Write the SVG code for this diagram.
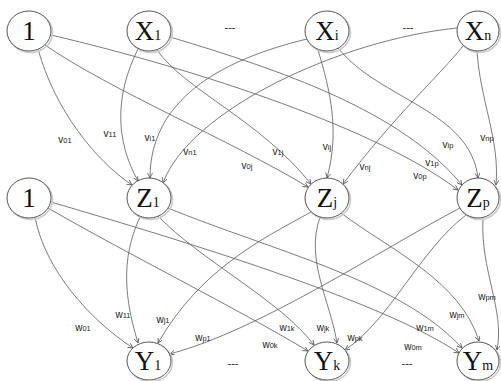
<svg xmlns="http://www.w3.org/2000/svg" width="501" height="381" viewBox="0 0 501 381">
  <style>
    .edge { fill: none; stroke: #5a5a5a; stroke-width: 0.8; marker-end: url(#arr); }
    .node ellipse.body { fill: #fff; stroke: #444; stroke-width: 0.9; }
    .node ellipse.shade { fill: none; stroke: #cccccc; stroke-width: 1.6; }
    .ntxt { font-family: "Liberation Serif", "Times New Roman", serif; font-size: 27px; fill: #111; text-anchor: middle; }
    .sub { font-size: 14px; }
    .lbl { font-family: "Liberation Sans", Arial, sans-serif; font-size: 10px; fill: #222; text-anchor: middle; }
    .ls { font-size: 7.5px; }
    .dots { font-family: "Liberation Sans", Arial, sans-serif; font-size: 11px; fill: #222; text-anchor: middle; }
  </style>
  <defs>
    <marker id="arr" markerWidth="7" markerHeight="6" refX="5" refY="2.5" orient="auto" markerUnits="userSpaceOnUse">
      <path d="M0,0 L5,2.5 L0,5" fill="none" stroke="#555" stroke-width="0.8"/>
    </marker>
  </defs>
  <rect width="501" height="381" fill="#fff"/>

  <g id="connectors">
    <!-- input layer to hidden layer -->
    <path class="edge" d="M38,49 C55,110 95,160 132,185"/>
    <path class="edge" d="M45,45 C110,90 230,140 308,187"/>
    <path class="edge" d="M51,35 C200,70 380,130 458,190"/>
    <path class="edge" d="M138,49 C115,95 115,140 138,181"/>
    <path class="edge" d="M157,50 C185,90 260,120 311,184"/>
    <path class="edge" d="M170,37 C280,70 400,110 462,185"/>
    <path class="edge" d="M307,39 C220,60 150,100 150,178"/>
    <path class="edge" d="M318,50 C330,90 340,130 327,178"/>
    <path class="edge" d="M338,48 C380,100 470,110 478,178"/>
    <path class="edge" d="M457,28 C340,40 190,110 163,183"/>
    <path class="edge" d="M463,46 C440,75 395,115 343,184"/>
    <path class="edge" d="M477,51 C480,100 500,140 496,185"/>
    <!-- hidden layer to output layer -->
    <path class="edge" d="M35,217 C45,270 90,320 133,348"/>
    <path class="edge" d="M48,208 C120,250 240,310 308,351"/>
    <path class="edge" d="M51,202 C180,240 380,300 459,353"/>
    <path class="edge" d="M140,217 C120,260 125,300 138,343"/>
    <path class="edge" d="M158,216 C200,260 280,300 314,345"/>
    <path class="edge" d="M168,208 C270,250 400,280 462,348"/>
    <path class="edge" d="M311,212 C260,240 200,270 158,343"/>
    <path class="edge" d="M320,217 C305,260 330,300 337,343"/>
    <path class="edge" d="M341,213 C390,250 460,280 479,341"/>
    <path class="edge" d="M460,208 C380,250 260,330 170,354"/>
    <path class="edge" d="M466,215 C420,250 390,320 345,350"/>
    <path class="edge" d="M483,218 C480,270 505,310 497,350"/>

    <!-- weight labels -->
    <text class="lbl" x="65" y="143">v<tspan class="ls">01</tspan></text>
    <text class="lbl" x="110" y="137">v<tspan class="ls">11</tspan></text>
    <text class="lbl" x="150" y="141">v<tspan class="ls">i1</tspan></text>
    <text class="lbl" x="190" y="155">v<tspan class="ls">n1</tspan></text>
    <text class="lbl" x="247" y="169">v<tspan class="ls">0j</tspan></text>
    <text class="lbl" x="278" y="155">v<tspan class="ls">1j</tspan></text>
    <text class="lbl" x="327" y="150">v<tspan class="ls">ij</tspan></text>
    <text class="lbl" x="365" y="170">v<tspan class="ls">nj</tspan></text>
    <text class="lbl" x="448" y="148">v<tspan class="ls">ip</tspan></text>
    <text class="lbl" x="487" y="141">v<tspan class="ls">np</tspan></text>
    <text class="lbl" x="432" y="166">v<tspan class="ls">1p</tspan></text>
    <text class="lbl" x="420" y="179">v<tspan class="ls">0p</tspan></text>

    <text class="lbl" x="83" y="331">w<tspan class="ls">01</tspan></text>
    <text class="lbl" x="123" y="318">w<tspan class="ls">11</tspan></text>
    <text class="lbl" x="163" y="323">w<tspan class="ls">j1</tspan></text>
    <text class="lbl" x="203" y="341">w<tspan class="ls">p1</tspan></text>
    <text class="lbl" x="270" y="348">w<tspan class="ls">0k</tspan></text>
    <text class="lbl" x="287" y="331">w<tspan class="ls">1k</tspan></text>
    <text class="lbl" x="323" y="331">w<tspan class="ls">jk</tspan></text>
    <text class="lbl" x="355" y="341">w<tspan class="ls">pk</tspan></text>
    <text class="lbl" x="413" y="350">w<tspan class="ls">0m</tspan></text>
    <text class="lbl" x="425" y="331">w<tspan class="ls">1m</tspan></text>
    <text class="lbl" x="457" y="318">w<tspan class="ls">jm</tspan></text>
    <text class="lbl" x="487" y="300">w<tspan class="ls">pm</tspan></text>
  </g>

  <!-- ellipsis marks between nodes -->
  <text class="dots" x="230" y="31">---</text>
  <text class="dots" x="408" y="31">---</text>
  <text class="dots" x="233" y="367">---</text>
  <text class="dots" x="407" y="367">---</text>

  <!-- input layer -->
  <g id="bias-in" class="node"><ellipse class="shade" cx="30.5" cy="32.5" rx="22" ry="20"/><ellipse class="body" cx="29" cy="31" rx="22" ry="20"/><text class="ntxt" x="29" y="40">1</text></g>
  <g id="x1" class="node"><ellipse class="shade" cx="150.5" cy="32.5" rx="22" ry="20"/><ellipse class="body" cx="149" cy="31" rx="22" ry="20"/><text class="ntxt" x="148" y="40">X<tspan class="sub">1</tspan></text></g>
  <g id="xi" class="node"><ellipse class="shade" cx="328.5" cy="32.5" rx="22" ry="20"/><ellipse class="body" cx="327" cy="31" rx="22" ry="20"/><text class="ntxt" x="327" y="40">X<tspan class="sub">i</tspan></text></g>
  <g id="xn" class="node"><ellipse class="shade" cx="479.5" cy="32.5" rx="21" ry="20"/><ellipse class="body" cx="478" cy="31" rx="21" ry="20"/><text class="ntxt" x="478" y="40">X<tspan class="sub">n</tspan></text></g>

  <!-- hidden layer -->
  <g id="bias-hidden" class="node"><ellipse class="shade" cx="30.5" cy="199.5" rx="22" ry="20"/><ellipse class="body" cx="29" cy="198" rx="22" ry="20"/><text class="ntxt" x="29" y="207">1</text></g>
  <g id="z1" class="node"><ellipse class="shade" cx="150.5" cy="199.5" rx="22" ry="20"/><ellipse class="body" cx="149" cy="198" rx="22" ry="20"/><text class="ntxt" x="148" y="207">Z<tspan class="sub">1</tspan></text></g>
  <g id="zj" class="node"><ellipse class="shade" cx="328.5" cy="199.5" rx="22" ry="20"/><ellipse class="body" cx="327" cy="198" rx="22" ry="20"/><text class="ntxt" x="327" y="207">Z<tspan class="sub">j</tspan></text></g>
  <g id="zp" class="node"><ellipse class="shade" cx="479.5" cy="199.5" rx="21" ry="20"/><ellipse class="body" cx="478" cy="198" rx="21" ry="20"/><text class="ntxt" x="478" y="207">Z<tspan class="sub">p</tspan></text></g>

  <!-- output layer -->
  <g id="y1" class="node"><ellipse class="shade" cx="150.5" cy="362.5" rx="22" ry="19"/><ellipse class="body" cx="149" cy="361" rx="22" ry="19"/><text class="ntxt" x="148" y="370">Y<tspan class="sub">1</tspan></text></g>
  <g id="yk" class="node"><ellipse class="shade" cx="328.5" cy="362.5" rx="22" ry="19"/><ellipse class="body" cx="327" cy="361" rx="22" ry="19"/><text class="ntxt" x="327" y="370">Y<tspan class="sub">k</tspan></text></g>
  <g id="ym" class="node"><ellipse class="shade" cx="479.5" cy="362.5" rx="21" ry="19"/><ellipse class="body" cx="478" cy="361" rx="21" ry="19"/><text class="ntxt" x="478" y="370">Y<tspan class="sub">m</tspan></text></g>
</svg>
